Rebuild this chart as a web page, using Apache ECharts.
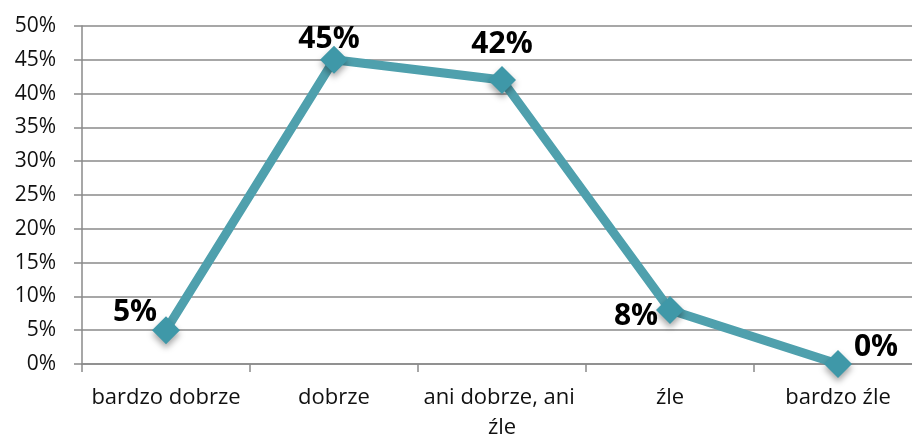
<!DOCTYPE html>
<html>
<head>
<meta charset="utf-8">
<script src="https://cdn.jsdelivr.net/npm/echarts@6/dist/echarts.min.js"></script>
<style>
  html, body { margin: 0; padding: 0; background: #fff; }
  #chart { width: 912px; height: 439px; }
</style>
</head>
<body>
<div id="chart"></div>
<script>
// oceny - wykres liniowy
const categories = ['bardzo dobrze', 'dobrze', 'ani dobrze, ani źle', 'źle', 'bardzo źle'];
const values = [5, 45, 42, 8, 0];

// przesunięcia etykiet danych (styl)
const labelOffsets = [[-31, -18], [-5, -20], [0, -36], [-34, 7], [38, -17]];

const myChart = echarts.init(document.getElementById('chart'));

const font = 'Open Sans';

const option = {
  animation: false,
  grid: {
    left: 82,
    top: 26,
    width: 840,
    bottom: 75,
    outerBoundsMode: 'none',
    containLabel: false
  },
  xAxis: {
    type: 'category',
    data: categories,
    boundaryGap: true,
    axisLine: { lineStyle: { color: '#8a8a8a', width: 1.5 } },
    axisTick: { show: true, length: 8, lineStyle: { color: '#8a8a8a', width: 1.5 } },
    axisLabel: {
      color: '#111',
      fontFamily: font,
      fontSize: 22,
      margin: 19,
      lineHeight: 30,
      width: 190,
      overflow: 'break',
      interval: 0
    }
  },
  yAxis: {
    type: 'value',
    min: 0,
    max: 50,
    interval: 5,
    axisLine: { show: true, lineStyle: { color: '#8a8a8a', width: 1.5 } },
    axisTick: { show: true, length: 8, lineStyle: { color: '#8a8a8a', width: 1.5 } },
    splitLine: { lineStyle: { color: '#8a8a8a', width: 1.5 } },
    axisLabel: {
      color: '#111',
      fontFamily: font,
      fontSize: 21,
      margin: 26,
      formatter: '{value}%'
    }
  },
  series: [
    {
      type: 'line',
      data: values.map((v, i) => ({
        value: v,
        label: { offset: labelOffsets[i] }
      })),
      lineStyle: { color: '#4fa0ad', width: 9 },
      symbol: 'diamond',
      symbolSize: 28,
      itemStyle: {
        color: '#3f98a8',
        shadowColor: 'rgba(0,0,0,0.35)',
        shadowBlur: 6,
        shadowOffsetY: 4
      },
      label: {
        show: true,
        position: 'inside',
        formatter: '{c}%',
        color: '#000',
        fontFamily: font,
        fontWeight: 'bold',
        fontSize: 30
      }
    }
  ]
};

myChart.setOption(option);
</script>
</body>
</html>
